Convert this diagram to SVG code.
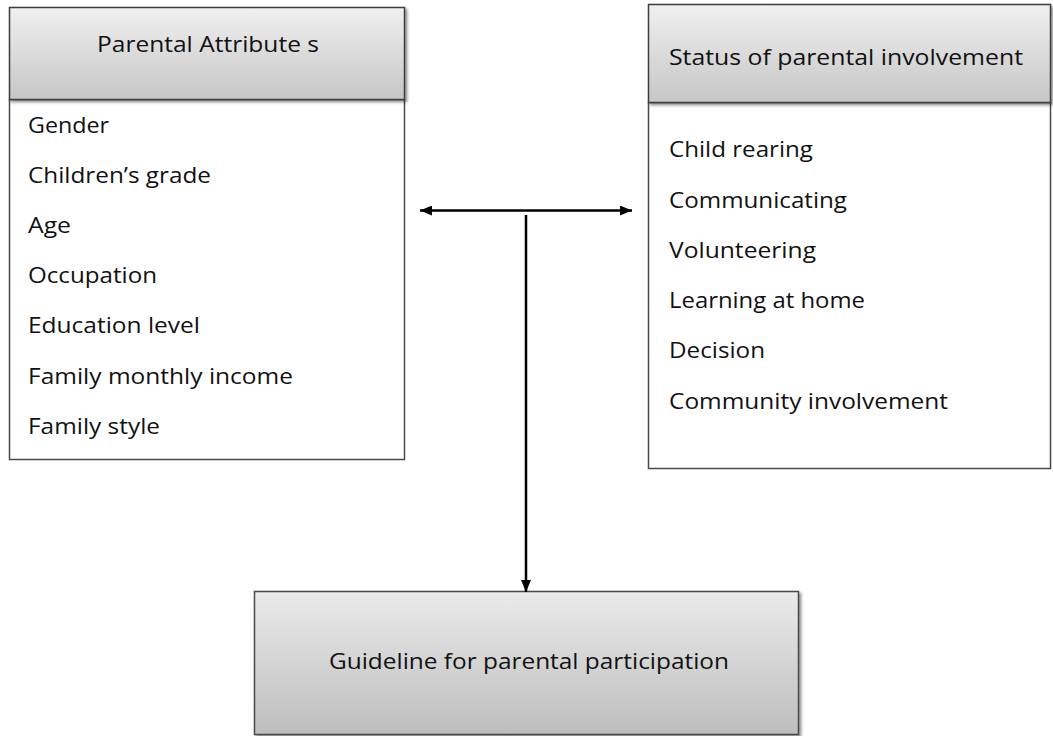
<svg xmlns="http://www.w3.org/2000/svg" width="1053" height="736" viewBox="0 0 1053 736">
<defs>
<linearGradient id="hdr" x1="0" y1="0" x2="0" y2="1">
<stop offset="0" stop-color="#f0f0f0"/>
<stop offset="1" stop-color="#c6c6c6"/>
</linearGradient>
<linearGradient id="bot" x1="0" y1="0" x2="0" y2="1">
<stop offset="0" stop-color="#ebebeb"/>
<stop offset="1" stop-color="#bdbdbd"/>
</linearGradient>
<marker id="arr" viewBox="0 0 12 10" refX="12" refY="5" markerWidth="12" markerHeight="10" markerUnits="userSpaceOnUse" orient="auto-start-reverse">
<path d="M0,0 L12,5 L0,10 z" fill="#000"/>
</marker>
<filter id="sh" x="-5%" y="-5%" width="112%" height="115%">
<feGaussianBlur in="SourceAlpha" stdDeviation="1.5"/>
<feOffset dx="1.5" dy="1.5"/>
<feComponentTransfer><feFuncA type="linear" slope="0.45"/></feComponentTransfer>
<feMerge><feMergeNode/><feMergeNode in="SourceGraphic"/></feMerge>
</filter>
</defs>
<style>
.hd{fill:url(#hdr);stroke:#3c3c3c;stroke-width:1.5}
.bd{fill:#fff;stroke:#4a4a4a;stroke-width:1.5}
.bt{fill:url(#bot);stroke:#4a4a4a;stroke-width:1.5}
text{font-family:"Open Sans","Liberation Sans",sans-serif;font-size:21px;fill:#111}
.c{stroke:#000;stroke-width:2.5;fill:none}
</style>
<rect width="1053" height="736" fill="#fff"/>
<g id="parental-attributes">
<rect class="bd" x="9.5" y="99.5" width="395" height="360"/>
<rect class="hd" x="9.5" y="7.5" width="395" height="92" filter="url(#sh)"/>
<text x="97" y="52" textLength="222" lengthAdjust="spacingAndGlyphs">Parental Attribute s</text>
<text x="28" y="133" textLength="81" lengthAdjust="spacingAndGlyphs">Gender</text>
<text x="28" y="183" textLength="183" lengthAdjust="spacingAndGlyphs">Children’s grade</text>
<text x="28" y="233" textLength="43" lengthAdjust="spacingAndGlyphs">Age</text>
<text x="28" y="283" textLength="129" lengthAdjust="spacingAndGlyphs">Occupation</text>
<text x="28" y="333" textLength="172" lengthAdjust="spacingAndGlyphs">Education level</text>
<text x="28" y="384" textLength="265" lengthAdjust="spacingAndGlyphs">Family monthly income</text>
<text x="28" y="434" textLength="132" lengthAdjust="spacingAndGlyphs">Family style</text>
</g>
<g id="status-involvement">
<rect class="bd" x="648.5" y="102.5" width="402" height="366"/>
<rect class="hd" x="648.5" y="4.5" width="402" height="98" filter="url(#sh)"/>
<text x="669" y="65" textLength="354" lengthAdjust="spacingAndGlyphs">Status of  parental involvement</text>
<text x="669" y="157" textLength="144" lengthAdjust="spacingAndGlyphs">Child rearing</text>
<text x="669" y="208" textLength="178" lengthAdjust="spacingAndGlyphs">Communicating</text>
<text x="669" y="258" textLength="147" lengthAdjust="spacingAndGlyphs">Volunteering</text>
<text x="669" y="308" textLength="196" lengthAdjust="spacingAndGlyphs">Learning at home</text>
<text x="669" y="358" textLength="96" lengthAdjust="spacingAndGlyphs">Decision</text>
<text x="669" y="409" textLength="279" lengthAdjust="spacingAndGlyphs">Community involvement</text>
</g>
<g id="guideline">
<rect class="bt" x="254.5" y="591.5" width="544" height="143" filter="url(#sh)"/>
<text x="329" y="669" textLength="400" lengthAdjust="spacingAndGlyphs">Guideline for parental participation</text>
</g>
<g id="connectors">
<line class="c" x1="420" y1="210.5" x2="632" y2="210.5" marker-start="url(#arr)" marker-end="url(#arr)"/>
<line class="c" x1="526" y1="215" x2="526" y2="592" marker-end="url(#arr)"/>
</g>
</svg>
